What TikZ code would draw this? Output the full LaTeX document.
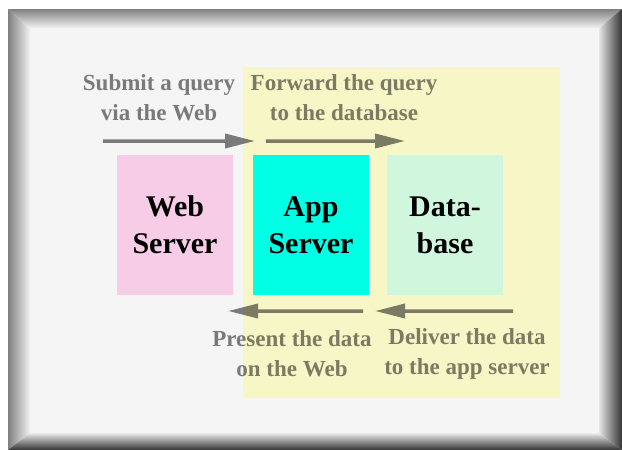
\documentclass[tikz,border=0pt]{standalone}
\usepackage{fontspec}
\setmainfont{Liberation Serif}
\usetikzlibrary{arrows.meta}

\definecolor{panelgray}{HTML}{F5F5F5}
\definecolor{zoneyellow}{HTML}{F7F6C6}
\definecolor{webpink}{HTML}{F6CCE6}
\definecolor{appcyan}{HTML}{00FFE4}
\definecolor{dbgreen}{HTML}{D0F6DE}

\begin{document}
\begin{tikzpicture}[x=1pt,y=-1pt]

\tikzset{tier/.style = {shape=rectangle,inner sep=0pt,minimum width=116pt,minimum height=140pt,align=center,font=\fontsize{30}{37}\selectfont\bfseries}}
\tikzset{note/.style = {align=center,inner sep=0pt,text opacity=0.5,font=\fontsize{23}{30}\selectfont\bfseries}}
\tikzset{flow/.style = {-{Triangle[length=30pt,width=14pt]},line width=3.5pt}}

\useasboundingbox (0,0) rectangle (622,450);
%frame
\fill[panelgray] (30,28) rectangle (599,433);
\shade[top color=black!50,bottom color=black!5] (8,9) -- (622,9) -- (599,28) -- (30,28) -- cycle;
\shade[left color=black!50,right color=black!5] (8,9) -- (30,28) -- (30,433) -- (8,450) -- cycle;
\shade[right color=black!80,left color=black!10] (622,9) -- (622,450) -- (599,433) -- (599,28) -- cycle;
\shade[bottom color=black!80,top color=black!8] (8,450) -- (30,433) -- (599,433) -- (622,450) -- cycle;
\fill[zoneyellow] (243,67) rectangle (560,398);
%tiers
\node[tier, fill=webpink] (web) at (175,225) {Web\\Server};
\node[tier, fill=appcyan] (app) at (311,225) {App\\Server};
\node[tier, fill=dbgreen] (db) at (445,225) {Data-\\base};
%notes
\node[note] (submit) at (159,98) {Submit a query\\via the Web};
\node[note] (forward) at (344,98) {Forward the query\\to the database};
\node[note] (present) at (292,354) {Present the data\\on the Web};
\node[note] (deliver) at (467,354) {Deliver the data\\to the app server};
%arrows
\coordinate (q1) at (103,141);
\coordinate (q2) at (255,141);
\coordinate (q3) at (266,141);
\coordinate (q4) at (405,141);
\coordinate (d1) at (513,311);
\coordinate (d2) at (375,311);
\coordinate (d3) at (363,311);
\coordinate (d4) at (228,311);
\begin{scope}[transparency group,opacity=0.5]
\draw[flow] (q1) -- (q2);
\draw[flow] (q3) -- (q4);
\draw[flow] (d1) -- (d2);
\draw[flow] (d3) -- (d4);
\end{scope}
\end{tikzpicture}
\end{document}
